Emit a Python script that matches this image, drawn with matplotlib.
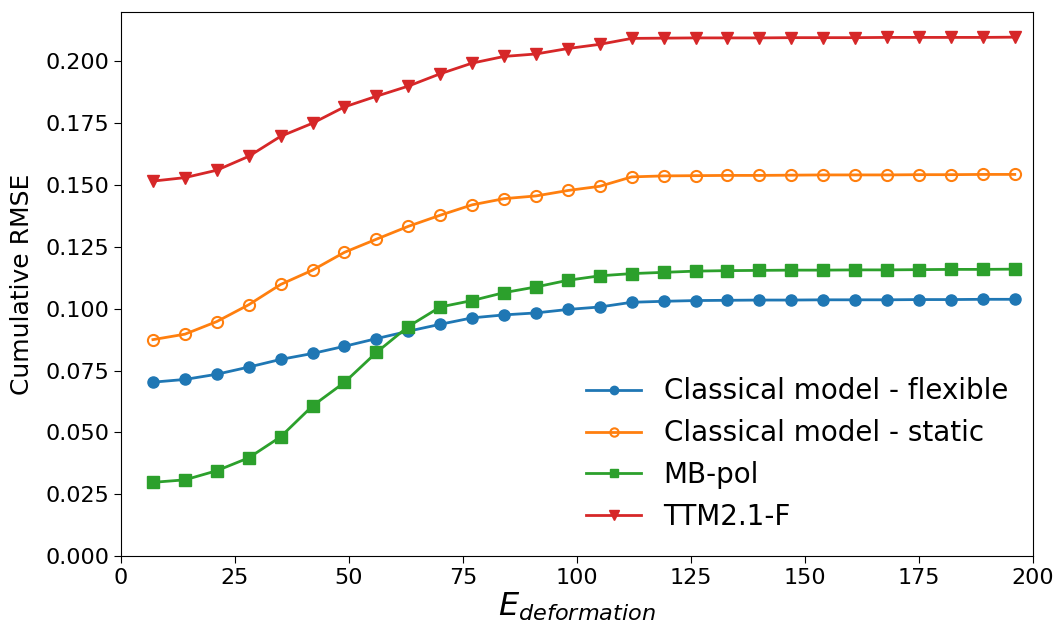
import matplotlib.pyplot as plt
import numpy as np

# energia de deformacion (eje x)
e_def = [7, 14, 21, 28, 35, 42, 49, 56, 63, 70, 77, 84, 91, 98,
         105, 112, 119, 126, 133, 140, 147, 154, 161, 168, 175, 182, 189, 196]

flexible = [0.0703, 0.0714, 0.0735, 0.0764, 0.0795, 0.0819, 0.0848, 0.0879, 0.0909, 0.0937,
            0.0963, 0.0975, 0.0983, 0.0997, 0.1007, 0.1026, 0.1030, 0.1033, 0.1034, 0.1035,
            0.1035, 0.1036, 0.1036, 0.1036, 0.1037, 0.1037, 0.1038, 0.1038]
static = [0.0875, 0.0897, 0.0948, 0.1016, 0.1098, 0.1156, 0.1228, 0.1281, 0.1333, 0.1378,
          0.1420, 0.1445, 0.1456, 0.1478, 0.1495, 0.1533, 0.1537, 0.1538, 0.1539, 0.1539,
          0.1540, 0.1541, 0.1541, 0.1541, 0.1542, 0.1542, 0.1543, 0.1543]
mbpol = [0.0298, 0.0308, 0.0345, 0.0397, 0.0482, 0.0607, 0.0702, 0.0823, 0.0928, 0.1007,
         0.1033, 0.1065, 0.1088, 0.1115, 0.1133, 0.1142, 0.1147, 0.1152, 0.1154, 0.1155,
         0.1156, 0.1156, 0.1157, 0.1157, 0.1158, 0.1159, 0.1159, 0.1160]
ttm = [0.1516, 0.1530, 0.1560, 0.1616, 0.1697, 0.1750, 0.1816, 0.1859, 0.1900, 0.1950,
       0.1993, 0.2020, 0.2030, 0.2052, 0.2069, 0.2093, 0.2094, 0.2095, 0.2095, 0.2095,
       0.2096, 0.2096, 0.2096, 0.2097, 0.2097, 0.2097, 0.2097, 0.2098]

fig = plt.figure(figsize=(10.56, 6.28), dpi=100)
ax = fig.add_axes([0.1146, 0.1146, 0.8636, 0.8664])

ax.plot(e_def, flexible, marker='o', markersize=8, lw=2, color='tab:blue',
        label='Classical model - flexible')
ax.plot(e_def, static, marker='o', markersize=8, lw=2, color='tab:orange',
        markerfacecolor='none', markeredgewidth=1.5, label='Classical model - static')
ax.plot(e_def, mbpol, marker='s', markersize=8, lw=2, color='tab:green', label='MB-pol')
ax.plot(e_def, ttm, marker='v', markersize=9, lw=2, color='tab:red', label='TTM2.1-F')

ax.set_xlim(0, 200)
ax.set_ylim(0, 0.22)
ax.set_yticks(np.arange(0, 0.2001, 0.025))
ax.tick_params(labelsize=16, length=5)

ax.set_xlabel('$E_{deformation}$', fontsize=23, labelpad=2)
ax.set_ylabel('Cumulative RMSE', fontsize=18, labelpad=8)

ax.legend(loc='lower right', fontsize=20, frameon=False, markerscale=0.75)

fig.savefig('out.png', dpi=100)
